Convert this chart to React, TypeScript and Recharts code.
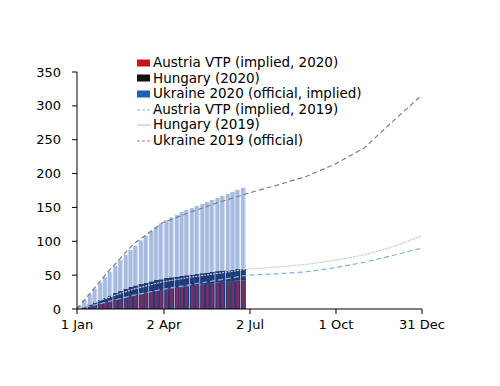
import React from 'react';
import { ComposedChart, Bar, Line, XAxis, YAxis } from 'recharts';

// 2020 observation days (day of year)
const days2020 = [3, 8, 14, 19, 25, 30, 35, 41, 46, 52, 57, 62, 68, 73, 79, 84, 89, 95, 100, 106, 111, 116, 122, 127, 133, 138, 143, 149, 154, 160, 165, 170, 176];
const austria2020 = [1, 2, 4, 6, 8, 10, 12, 14, 16, 18, 19, 21, 23, 25, 26, 27, 28, 29, 30, 31, 32, 33, 34, 35, 36, 37, 38, 39, 40, 40, 41, 42, 42];
const hungary2020 = [1, 4, 7, 10, 14, 17, 20, 24, 27, 30, 33, 35, 37, 39, 41, 43, 44, 46, 47, 48, 49, 50, 51, 52, 53, 54, 55, 56, 57, 57, 58, 59, 59];
const ukraine2020 = [5, 13, 22, 30, 39, 47, 55, 64, 72, 80, 87, 93, 101, 108, 115, 121, 126, 131, 135, 139, 143, 146, 149, 152, 155, 158, 161, 164, 167, 170, 173, 176, 179];

// 2019 month-end points (day of year)
const days2019 = [0, 31, 59, 90, 120, 151, 181, 212, 243, 273, 304, 334, 365];
const austria2019 = [0, 10, 20, 29, 36, 43, 50, 52, 55, 61, 69, 79, 90];
const hungary2019 = [0, 16, 29, 40, 47, 53, 59, 62, 66, 72, 80, 92, 108];
const ukraine2019 = [0, 52, 95, 127, 143, 158, 171, 183, 196, 214, 238, 277, 316];

const xTickDays = [0, 92, 183, 274, 365];
const xTickLabels = ['1 Jan', '2 Apr', '2 Jul', '1 Oct', '31 Dec'];
const yTicks = [0, 50, 100, 150, 200, 250, 300, 350];

const legendItems = [
  { label: 'Austria VTP (implied, 2020)', kind: 'bar', color: '#C8141C' },
  { label: 'Hungary (2020)', kind: 'bar', color: '#111111' },
  { label: 'Ukraine 2020 (official, implied)', kind: 'bar', color: '#1F5FB5' },
  { label: 'Austria VTP (implied, 2019)', kind: 'line', color: '#7FB0EA', dash: '3 2' },
  { label: 'Hungary (2019)', kind: 'line', color: '#C8C8C8', dash: '' },
  { label: 'Ukraine 2019 (official)', kind: 'line', color: '#8A8A8A', dash: '3 2' },
];

const barData = days2020.map((d, i) => ({
  day: d,
  aus: austria2020[i],
  hunDiff: hungary2020[i] - austria2020[i],
  ukrDiff: ukraine2020[i] - hungary2020[i],
}));

const mk = (vals: number[]) => days2019.map((d, i) => ({ day: d, v: vals[i] }));

const FONT = '"DejaVu Sans", Verdana, sans-serif';
const BW = 5.1;

const AusShape = (p: any) => {
  const { x, y, width, height } = p;
  if (!height || height <= 0) return <g />;
  const cx = x + (width || 0) / 2;
  const inner = 2.6;
  return (
    <g>
      <rect x={cx - BW / 2} y={y} width={BW} height={height} fill="#1E3A78" />
      <rect x={cx - inner / 2} y={y} width={inner} height={height} fill="#7E2C62" />
    </g>
  );
};

const HunShape = (p: any) => {
  const { x, y, width, height } = p;
  if (!height || height <= 0) return <g />;
  const cx = x + (width || 0) / 2;
  return <rect x={cx - BW / 2} y={y} width={BW} height={height} fill="#1E3A78" />;
};

const UkrShape = (p: any) => {
  const { x, y, width, height } = p;
  if (!height || height <= 0) return <g />;
  const cx = x + (width || 0) / 2;
  return (
    <g>
      <rect x={cx - BW / 2} y={y} width={BW} height={height} fill="#D3DDEF" />
      <rect x={cx - BW / 2 + 0.4} y={y} width={BW - 1.6} height={height} fill="#A6BBE0" />
    </g>
  );
};

const LegendBox = () => (
  <div style={{ position: 'absolute', left: 136, top: 55, fontFamily: FONT, fontSize: 13.5, color: '#000', lineHeight: '15.6px' }}>
    {legendItems.map((it) => (
      <div key={it.label} style={{ display: 'flex', alignItems: 'center', height: 15.6, whiteSpace: 'nowrap' }}>
        <svg width={17} height={10}>
          {it.kind === 'bar' ? (
            <rect x={1} y={1.5} width={13} height={7} fill={it.color} />
          ) : (
            <line x1={1} y1={5} x2={15} y2={5} stroke={it.color} strokeWidth={1.2} strokeDasharray={it.dash || undefined} />
          )}
        </svg>
        <span>{it.label}</span>
      </div>
    ))}
  </div>
);

export default function App() {
  return (
    <div style={{ position: 'absolute', left: 0, top: 0, width: 500, height: 386, background: '#fff' }}>
      <ComposedChart width={500} height={386} data={barData} margin={{ top: 72, right: 78, bottom: 47, left: 0 }}>
        <XAxis
          dataKey="day"
          type="number"
          domain={[0, 365]}
          ticks={xTickDays}
          interval={0}
          height={30}
          tickFormatter={(v: number) => xTickLabels[xTickDays.indexOf(v)] ?? ''}
          tick={{ fontFamily: FONT, fontSize: 13, fill: '#000' }}
          tickLine={{ stroke: '#000' }}
          axisLine={{ stroke: '#000' }}
          tickSize={5}
          tickMargin={6}
          allowDataOverflow
        />
        <YAxis
          type="number"
          domain={[0, 350]}
          ticks={yTicks}
          width={77}
          tick={{ fontFamily: FONT, fontSize: 13, fill: '#000' }}
          tickLine={{ stroke: '#000' }}
          axisLine={{ stroke: '#000' }}
          tickSize={5}
          tickMargin={11}
          interval={0}
        />
        <Bar dataKey="aus" stackId="s" barSize={5} shape={<AusShape />} isAnimationActive={false} />
        <Bar dataKey="hunDiff" stackId="s" barSize={5} shape={<HunShape />} isAnimationActive={false} />
        <Bar dataKey="ukrDiff" stackId="s" barSize={5} shape={<UkrShape />} isAnimationActive={false} />
        <Line data={mk(austria2019)} dataKey="v" type="linear" stroke="#7FB0EA" strokeWidth={1.2} strokeDasharray="5 3" dot={false} isAnimationActive={false} />
        <Line data={mk(hungary2019)} dataKey="v" type="linear" stroke="#C8C8C8" strokeWidth={1.2} strokeDasharray="2 1" dot={false} isAnimationActive={false} />
        <Line data={mk(ukraine2019)} dataKey="v" type="linear" stroke="#808080" strokeWidth={1.2} strokeDasharray="5 3" dot={false} isAnimationActive={false} />
      </ComposedChart>
      <LegendBox />
    </div>
  );
}
